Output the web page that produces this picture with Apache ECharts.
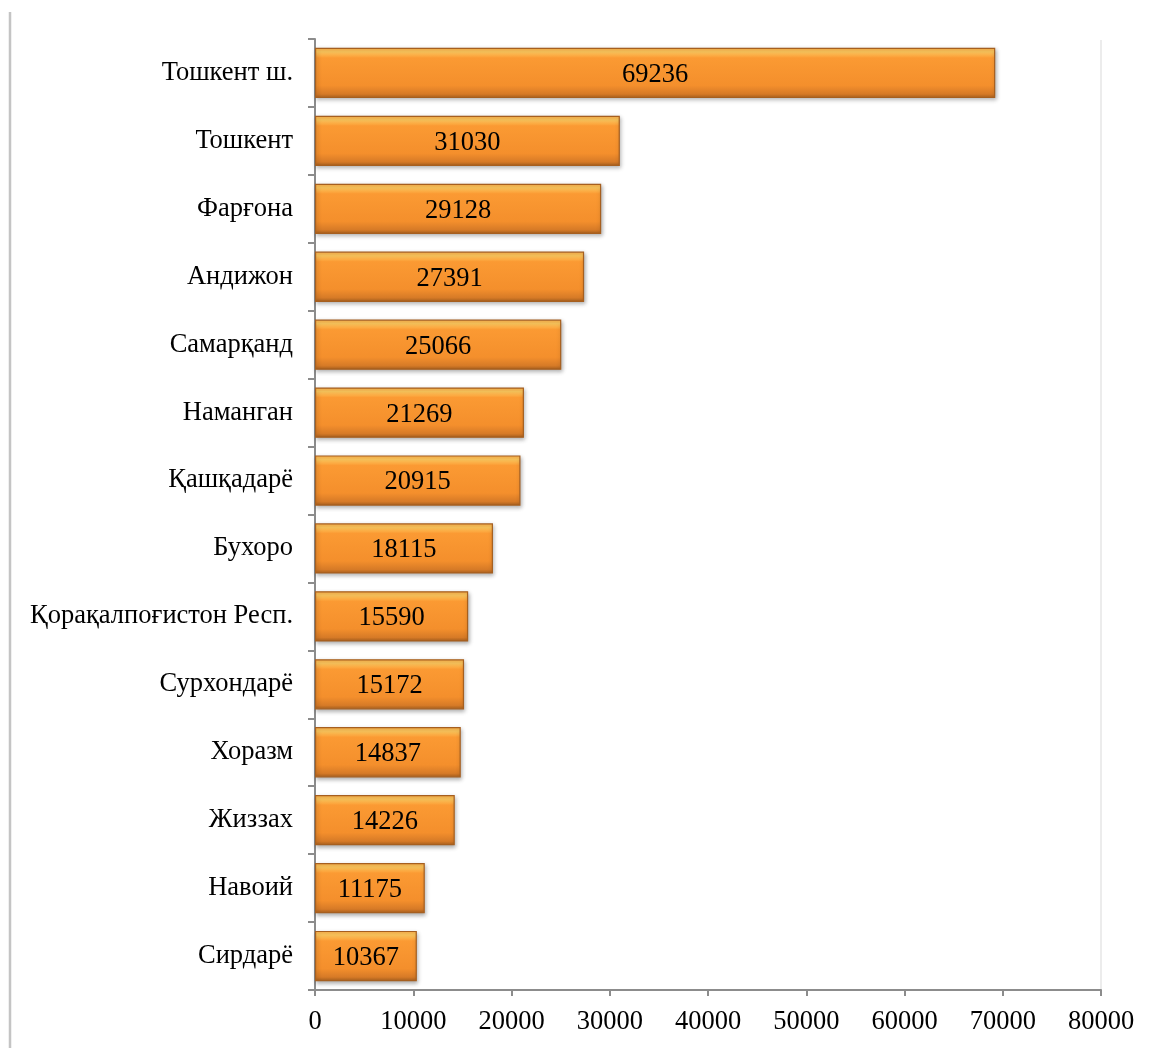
<!DOCTYPE html>
<html>
<head>
<meta charset="utf-8">
<script src="https://cdn.jsdelivr.net/npm/echarts@6/dist/echarts.min.js"></script>
<style>
html,body{margin:0;padding:0;background:#fff;}
#chart{width:1151px;height:1048px;}
</style>
</head>
<body>
<div id="chart"></div>
<script>
const categories = ["Тошкент ш.","Тошкент","Фарғона","Андижон","Самарқанд","Наманган","Қашқадарё","Бухоро","Қорақалпоғистон Респ.","Сурхондарё","Хоразм","Жиззах","Навоий","Сирдарё"];
const values = [69236,31030,29128,27391,25066,21269,20915,18115,15590,15172,14837,14226,11175,10367];
const xTicks = [0,10000,20000,30000,40000,50000,60000,70000,80000];

const font = "'Liberation Serif','Times New Roman',serif";
const chart = echarts.init(document.getElementById('chart'));
chart.setOption({
  animation:false,
  backgroundColor:'#ffffff',
  grid:{left:315,right:50,top:39,bottom:58,show:false},
  graphic:[
    {type:'line',shape:{x1:10,y1:12,x2:10,y2:1048},style:{stroke:'#c4c4c4',lineWidth:2.5},z:0},
    {type:'line',shape:{x1:1101,y1:40,x2:1101,y2:990},style:{stroke:'#e6e6e6',lineWidth:1.5},z:0}
  ],
  xAxis:{
    type:'value',min:xTicks[0],max:xTicks[xTicks.length-1],interval:10000,
    axisLine:{show:true,lineStyle:{color:'#8c8c8c',width:2}},
    axisTick:{show:true,length:6,lineStyle:{color:'#8c8c8c',width:2}},
    splitLine:{show:false},
    axisLabel:{color:'#000',fontFamily:font,fontSize:26.5,margin:19,formatter:v=>String(v)}
  },
  yAxis:{
    type:'category',data:categories,inverse:true,
    axisLine:{show:true,lineStyle:{color:'#8c8c8c',width:2}},
    axisTick:{show:true,length:7,lineStyle:{color:'#8c8c8c',width:2}},
    axisLabel:{color:'#000',fontFamily:font,fontSize:26.5,margin:22}
  },
  series:[{
    type:'bar',data:values,barCategoryGap:'26%',
    itemStyle:{
      color:new echarts.graphic.LinearGradient(0,0,0,1,[
        {offset:0,color:'#ffb04a'},
        {offset:0.08,color:'#ffc95e'},
        {offset:0.2,color:'#fb9a33'},
        {offset:0.75,color:'#f48f2c'},
        {offset:0.92,color:'#d67a27'},
        {offset:1,color:'#a8601e'}
      ]),
      borderColor:'#a65f1f',borderWidth:1.2,
      shadowColor:'rgba(0,0,0,0.3)',shadowBlur:4,shadowOffsetX:1,shadowOffsetY:2
    },
    label:{show:true,position:'inside',color:'#000',fontFamily:font,fontSize:26.5,offset:[0,2]}
  }]
});
</script>
</body>
</html>
